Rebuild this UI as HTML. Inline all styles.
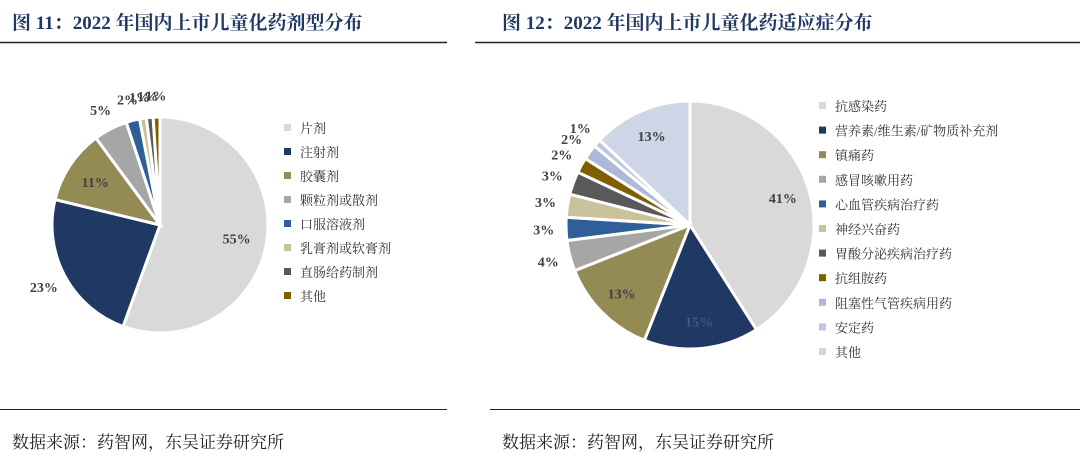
<!DOCTYPE html>
<html><head><meta charset="utf-8"><style>
body{margin:0;width:1080px;height:459px;background:#fff;overflow:hidden;font-family:"Liberation Serif","Noto Serif CJK SC",serif;}
.t{position:absolute;top:8px;font-size:19px;font-weight:bold;color:#1f3864;}
.src{position:absolute;top:428px;font-size:17px;color:#222;}
</style></head><body>
<div class="t" style="left:12px">图 11：2022 年国内上市儿童化药剂型分布</div>
<div class="t" style="left:502px">图 12：2022 年国内上市儿童化药适应症分布</div>
<div class="src" style="left:12px">数据来源：药智网，东吴证券研究所</div>
<div class="src" style="left:502px">数据来源：药智网，东吴证券研究所</div>
<svg id="s" width="1080" height="459" style="position:absolute;left:0;top:0" font-family="Liberation Serif, Noto Serif CJK SC, serif">
<line x1="0" y1="42.5" x2="447" y2="42.5" stroke="#222" stroke-width="1.5"/>
<line x1="475" y1="42.5" x2="1080" y2="42.5" stroke="#222" stroke-width="1.5"/>
<line x1="0" y1="409.5" x2="447" y2="409.5" stroke="#222" stroke-width="1"/>
<line x1="490" y1="409.5" x2="1080" y2="409.5" stroke="#222" stroke-width="1"/>
</svg>
<script>
const leftCats=["片剂","注射剂","胶囊剂","颗粒剂或散剂","口服溶液剂","乳膏剂或软膏剂","直肠给药制剂","其他"];
const leftVals=[55,23,11,5,2,1,1,1];
const rightCats=["抗感染药","营养素/维生素/矿物质补充剂","镇痛药","感冒咳嗽用药","心血管疾病治疗药","神经兴奋药","胃酸分泌疾病治疗药","抗组胺药","阻塞性气管疾病用药","安定药","其他"];
const rightVals=[41,15,13,4,3,3,3,2,2,1,13];
const leftColors=["#d9d9d9","#1f3864","#948a54","#a6a6a6","#2f5f97","#c9c29b","#595959","#7f6000"];
const rightColors=["#d9d9d9","#1f3864","#948a54","#a6a6a6","#2f5f97","#c9c29b","#595959","#7f6000","#adb9d6","#bcc7de","#cdd5e6"];
const svg=document.getElementById('s');const NS="http://www.w3.org/2000/svg";
function mk(t,a){const e=document.createElementNS(NS,t);for(const k in a)e.setAttribute(k,a[k]);svg.appendChild(e);return e;}
function pie(cx,cy,r,vals,cols,cats,lx,ly,lstep,prefix,labelPos){
 const tot=vals.reduce((a,b)=>a+b,0);let a0=0;
 vals.forEach((v,i)=>{
  const a1=a0+v/tot*2*Math.PI;
  const p=(a)=>[cx+r*Math.sin(a),cy-r*Math.cos(a)];
  const [x0,y0]=p(a0),[x1,y1]=p(a1);
  const path=mk('path',{d:`M${cx},${cy}L${x0},${y0}A${r},${r} 0 ${a1-a0>Math.PI?1:0} 1 ${x1},${y1}Z`,fill:cols[i],stroke:"#fff","stroke-width":3});
  
  
  const m=(a0+a1)/2;const lr=labelPos(i,v)*r;
  const tx=mk('text',{x:cx+lr*Math.sin(m),y:cy-lr*Math.cos(m)+5,"text-anchor":"middle","font-size":14,"font-weight":"bold",fill:(i==1&&prefix=='right')?"#3a5a8c":"#404040"});
  tx.textContent=v+"%";
  
  
  a0=a1;
 });
 cats.forEach((c,i)=>{
  const y=ly+i*lstep;
  const rc=mk('rect',{x:lx,y:y-4,width:7,height:7,fill:cols[i]});
  
  
  const t=mk('text',{x:lx+16,y:y+5,"font-size":13,fill:"#333"});t.textContent=c;
  
  
 });
}
pie(160,225,108,leftVals,leftColors,leftCats,284,128,24,'left',(i,v)=>i==1?1.22:(v>=10?0.72:1.2));
pie(690,225,124,rightVals,rightColors,rightCats,819,106,24.6,'right',(i,v)=>v>=10?0.78:1.18);
</script>
</body></html>
